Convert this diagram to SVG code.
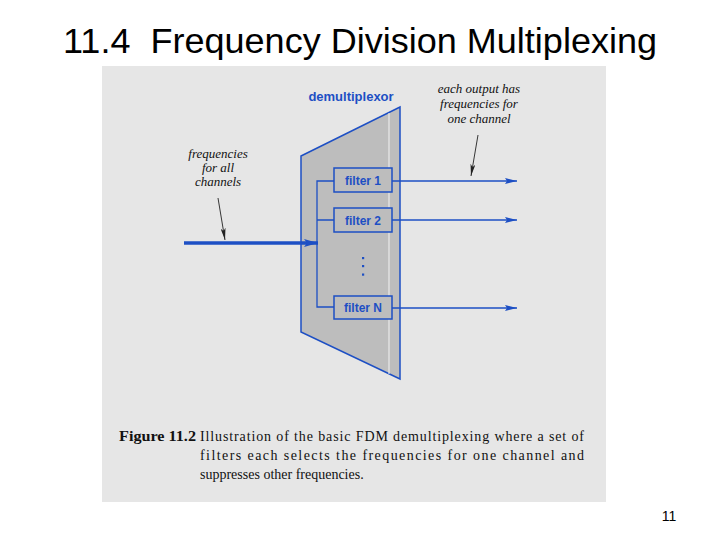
<svg xmlns="http://www.w3.org/2000/svg" width="720" height="540" viewBox="0 0 720 540">
<style>
.title{font-family:"Liberation Sans",Arial,sans-serif;font-size:35px;fill:#000}
.blue{font-family:"Liberation Sans",Arial,sans-serif;font-weight:bold;fill:#1d4fc4}
.note{font-family:"Liberation Serif","Times New Roman",serif;font-style:italic;font-size:13px;fill:#111}
.cap{font-family:"Liberation Serif","Times New Roman",serif;font-size:14px;fill:#111}
.box{fill:#bdbdbd;stroke:#1d4fc4;stroke-width:1.5}
.wire{fill:none;stroke:#1d4fc4;stroke-width:1.3}
.ptr{fill:none;stroke:#222;stroke-width:0.9}
</style>
<defs>
<marker id="bh" viewBox="0 0 12 6" refX="12" refY="3" markerWidth="12" markerHeight="6" markerUnits="userSpaceOnUse" orient="auto">
<path d="M0,0 L12,3 L0,6 L2,3 Z" fill="#1d4fc4"/>
</marker>
<marker id="bigh" viewBox="0 0 14 8" refX="14" refY="4" markerWidth="14" markerHeight="8" markerUnits="userSpaceOnUse" orient="auto">
<path d="M0,0 L14,4 L0,8 L3,4 Z" fill="#1d4fc4"/>
</marker>
<marker id="kh" viewBox="0 0 12 5" refX="12" refY="2.5" markerWidth="12" markerHeight="5" markerUnits="userSpaceOnUse" orient="auto">
<path d="M0,0 L12,2.5 L0,5 L3,2.5 Z" fill="#222"/>
</marker>
</defs>
<rect width="720" height="540" fill="#fff"/>
<text class="title" x="63" y="53" textLength="594" lengthAdjust="spacingAndGlyphs" xml:space="preserve">11.4  Frequency Division Multiplexing</text>
<rect x="102" y="66" width="504" height="436" fill="#e6e6e6"/>

<g id="demux">
<polygon points="301,156 400,107 400,379 301,332" fill="#bdbdbd" stroke="#1d4fc4" stroke-width="1.5"/>
<line x1="389" y1="113" x2="389" y2="374" stroke="#f2f2f2" stroke-width="1"/>
<text class="blue" x="351" y="101" font-size="13" text-anchor="middle">demultiplexor</text>
</g>

<g id="filter1">
<rect class="box" x="334" y="168" width="58" height="24"/>
<text class="blue" x="363" y="185" font-size="12" text-anchor="middle">filter 1</text>
</g>
<g id="filter2">
<rect class="box" x="334" y="208" width="58" height="24"/>
<text class="blue" x="363" y="225" font-size="12" text-anchor="middle">filter 2</text>
</g>
<g id="filterN">
<rect class="box" x="334" y="296" width="58" height="23"/>
<text class="blue" x="363" y="312" font-size="12" text-anchor="middle">filter N</text>
</g>
<g id="dots" fill="#1d4fc4">
<rect x="362" y="257" width="2.2" height="2.2"/>
<rect x="362" y="265" width="2.2" height="2.2"/>
<rect x="362" y="273.5" width="2.2" height="2.2"/>
</g>

<g id="connectors">
<line x1="184" y1="243" x2="318" y2="243" stroke="#1d4fc4" stroke-width="3.5" marker-end="url(#bigh)"/>
<path class="wire" d="M334,181 H317 V307 H334 M317,220 H334"/>
<line class="wire" x1="392" y1="181" x2="517" y2="181" marker-end="url(#bh)"/>
<line class="wire" x1="392" y1="220" x2="517" y2="220" marker-end="url(#bh)"/>
<line class="wire" x1="392" y1="308" x2="517" y2="308" marker-end="url(#bh)"/>
<line class="ptr" x1="218" y1="198" x2="225" y2="240" marker-end="url(#kh)"/>
<line class="ptr" x1="478" y1="135" x2="471" y2="176" marker-end="url(#kh)"/>
</g>

<g id="note-in">
<text class="note" x="218" y="158" text-anchor="middle">frequencies</text>
<text class="note" x="218" y="172" text-anchor="middle">for all</text>
<text class="note" x="218" y="186" text-anchor="middle">channels</text>
</g>
<g id="note-out">
<text class="note" x="479" y="93" text-anchor="middle">each output has</text>
<text class="note" x="479" y="108" text-anchor="middle">frequencies for</text>
<text class="note" x="479" y="123" text-anchor="middle">one channel</text>
</g>

<g id="caption">
<text class="cap" x="119" y="441" font-weight="bold" textLength="77" lengthAdjust="spacingAndGlyphs">Figure 11.2</text>
<text class="cap" x="200" y="441" textLength="384" lengthAdjust="spacing">Illustration of the basic FDM demultiplexing where a set of</text>
<text class="cap" x="200" y="460" textLength="384" lengthAdjust="spacing">filters each selects the frequencies for one channel and</text>
<text class="cap" x="200" y="479">suppresses other frequencies.</text>
</g>

<text x="669" y="521" font-family="Liberation Sans, Arial, sans-serif" font-size="14" text-anchor="middle">11</text>
</svg>
